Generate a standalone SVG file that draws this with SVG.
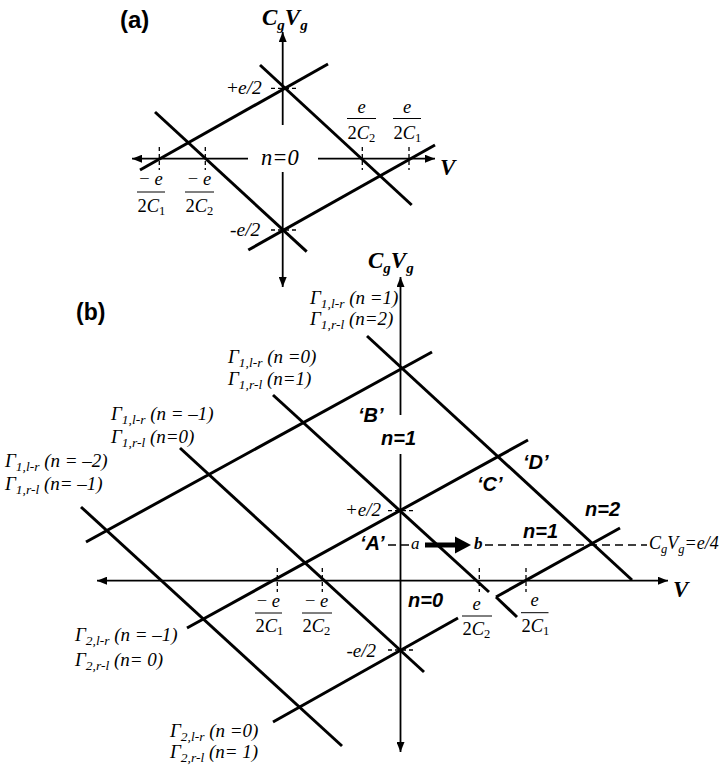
<svg xmlns="http://www.w3.org/2000/svg" width="727" height="765" viewBox="0 0 727 765">
<defs>
<style>
.ln{stroke:#000;stroke-width:3;fill:none}
.ax{stroke:#000;stroke-width:1.8;fill:none}
.tk{stroke:#000;stroke-width:1.3;stroke-dasharray:4 3;fill:none}
.dl{stroke:#000;stroke-width:1.5;stroke-dasharray:8 5;fill:none}
.tm{font-family:"Liberation Serif","Times New Roman",serif;font-style:italic;fill:#000}
.up{font-style:normal}
.tb{font-family:"Liberation Serif","Times New Roman",serif;font-style:italic;font-weight:bold;fill:#000}
.hb{font-family:"Liberation Sans",Arial,sans-serif;font-weight:bold;font-style:italic;font-size:20px;fill:#000}
.hd{font-family:"Liberation Sans",Arial,sans-serif;font-weight:bold;fill:#000}
.gl{font-family:"Liberation Serif","Times New Roman",serif;font-style:italic;font-size:19px;fill:#000}
.sb{font-size:13.5px}
.fr{font-family:"Liberation Serif","Times New Roman",serif;font-size:18.5px;fill:#000}
</style>
<marker id="ar" viewBox="0 0 10 8" refX="10" refY="4" markerWidth="10" markerHeight="8" markerUnits="userSpaceOnUse" orient="auto"><path d="M0,0 L10,4 L0,8 z" fill="#000"/></marker>
</defs>

<!-- ===== Panel (a) ===== -->
<g id="panel-a-axes">
<text class="hd" x="120" y="28" font-size="24">(a)</text>
<line class="ax" x1="282.7" y1="125" x2="282.7" y2="32" marker-end="url(#ar)"/>
<line class="ax" x1="282.7" y1="172" x2="282.7" y2="287" marker-end="url(#ar)"/>
<line class="ax" x1="248" y1="158.7" x2="132" y2="158.7" marker-end="url(#ar)"/>
<line class="ax" x1="318" y1="158.7" x2="435" y2="158.7" marker-end="url(#ar)"/>
<text class="tb" x="262" y="25" font-size="23">C<tspan font-size="15" dy="5">g</tspan><tspan dy="-5">V</tspan><tspan font-size="15" dy="5">g</tspan></text>
<text class="tb" x="440" y="175" font-size="23">V</text>
<text class="tm" x="261" y="164.5" font-size="22.5">n=0</text>
</g>
<g id="panel-a-lines">
<line class="ln" x1="140" y1="170" x2="328" y2="64"/>
<line class="ln" x1="260" y1="65" x2="411.7" y2="205"/>
<line class="ln" x1="155" y1="112" x2="306.7" y2="251.7"/>
<line class="ln" x1="248.3" y1="250" x2="435" y2="145"/>
</g>
<g id="panel-a-ticks">
<line class="tk" x1="271" y1="88.3" x2="296" y2="88.3"/>
<line class="tk" x1="271" y1="230" x2="296" y2="230"/>
<line class="tk" x1="159.3" y1="147" x2="159.3" y2="170"/>
<line class="tk" x1="205.3" y1="147" x2="205.3" y2="170"/>
<line class="tk" x1="362.3" y1="147" x2="362.3" y2="170"/>
<line class="tk" x1="409" y1="147" x2="409" y2="170"/>
<text class="tm" x="227" y="93.5" font-size="19.5"><tspan class="up">+</tspan>e/2</text>
<text class="tm" x="230" y="235.5" font-size="19.5">-e/2</text>
</g>
<g id="panel-a-fractions">
<text class="fr" x="361.5" y="113" text-anchor="middle"><tspan font-style="italic">e</tspan></text>
<line x1="347" y1="118.5" x2="376" y2="118.5" stroke="#000" stroke-width="1"/>
<text class="fr" x="347.5" y="139">2<tspan font-style="italic">C</tspan><tspan font-size="12.5" dy="3">2</tspan></text>
<text class="fr" x="407" y="113" text-anchor="middle"><tspan font-style="italic">e</tspan></text>
<line x1="393" y1="118.5" x2="421" y2="118.5" stroke="#000" stroke-width="1"/>
<text class="fr" x="393.5" y="139">2<tspan font-style="italic">C</tspan><tspan font-size="12.5" dy="3">1</tspan></text>
<text class="fr" x="151" y="185" text-anchor="middle">− <tspan font-style="italic">e</tspan></text>
<line x1="137" y1="192" x2="165" y2="192" stroke="#000" stroke-width="1"/>
<text class="fr" x="137.5" y="212">2<tspan font-style="italic">C</tspan><tspan font-size="12.5" dy="3">1</tspan></text>
<text class="fr" x="199.5" y="185" text-anchor="middle">− <tspan font-style="italic">e</tspan></text>
<line x1="185" y1="192" x2="214" y2="192" stroke="#000" stroke-width="1"/>
<text class="fr" x="185.5" y="212">2<tspan font-style="italic">C</tspan><tspan font-size="12.5" dy="3">2</tspan></text>
</g>

<!-- ===== Panel (b) ===== -->
<g id="panel-b-axes">
<text class="hd" x="76" y="320" font-size="23">(b)</text>
<line class="ax" x1="400.5" y1="415" x2="400.5" y2="277" marker-end="url(#ar)"/>
<line class="ax" x1="400.5" y1="454" x2="400.5" y2="752" marker-end="url(#ar)"/>
<line class="ax" x1="400.5" y1="580.7" x2="97" y2="580.7" marker-end="url(#ar)"/>
<line class="ax" x1="400.5" y1="580.7" x2="668" y2="580.7" marker-end="url(#ar)"/>
<text class="tb" x="368" y="268" font-size="23">C<tspan font-size="15" dy="5">g</tspan><tspan dy="-5">V</tspan><tspan font-size="15" dy="5">g</tspan></text>
<text class="tb" x="673" y="597" font-size="23">V</text>
</g>
<g id="panel-b-connectors">
<line class="ln" x1="367" y1="336" x2="632" y2="580"/>
<line class="ln" x1="273" y1="395" x2="489" y2="592"/>
<line class="ln" x1="496" y1="597" x2="517" y2="617"/>
<line class="ln" x1="180" y1="448" x2="424" y2="672"/>
<line class="ln" x1="81" y1="507" x2="342" y2="746"/>
<line class="ln" x1="86" y1="542" x2="432" y2="352"/>
<line class="ln" x1="187" y1="628" x2="528" y2="440"/>
<line class="ln" x1="273" y1="722" x2="458" y2="618"/>
<line class="ln" x1="496" y1="597" x2="620" y2="528"/>
<line class="dl" x1="388" y1="545" x2="412" y2="545"/>
<line class="dl" x1="485" y1="545" x2="647" y2="545"/>
<line x1="425" y1="545" x2="457" y2="545" stroke="#000" stroke-width="5"/>
<polygon points="455,536.5 471,545 455,553.5" fill="#000"/>
</g>
<g id="panel-b-ticks">
<line class="tk" x1="388" y1="510.7" x2="413" y2="510.7"/>
<line class="tk" x1="388" y1="650" x2="413" y2="650"/>
<line class="tk" x1="277.3" y1="568" x2="277.3" y2="592"/>
<line class="tk" x1="322.3" y1="568" x2="322.3" y2="592"/>
<line class="tk" x1="479.3" y1="568" x2="479.3" y2="592"/>
<line class="tk" x1="526" y1="568" x2="526" y2="592"/>
<text class="tm" x="345" y="515.5" font-size="19">+<tspan>e/2</tspan></text>
<text class="tm" x="346.5" y="657" font-size="19">-e/2</text>
</g>
<g id="panel-b-fractions">
<text class="fr" x="268.3" y="606.5" text-anchor="middle">− <tspan font-style="italic">e</tspan></text>
<line x1="255" y1="613" x2="282" y2="613" stroke="#000" stroke-width="1"/>
<text class="fr" x="255.5" y="632">2<tspan font-style="italic">C</tspan><tspan font-size="12.5" dy="3">1</tspan></text>
<text class="fr" x="316.7" y="606.5" text-anchor="middle">− <tspan font-style="italic">e</tspan></text>
<line x1="302" y1="613" x2="332" y2="613" stroke="#000" stroke-width="1"/>
<text class="fr" x="302.5" y="632">2<tspan font-style="italic">C</tspan><tspan font-size="12.5" dy="3">2</tspan></text>
<text class="fr" x="476.7" y="610" text-anchor="middle"><tspan font-style="italic">e</tspan></text>
<line x1="462" y1="616" x2="492" y2="616" stroke="#000" stroke-width="1"/>
<text class="fr" x="462.5" y="635">2<tspan font-style="italic">C</tspan><tspan font-size="12.5" dy="3">2</tspan></text>
<text class="fr" x="534.5" y="606" text-anchor="middle"><tspan font-style="italic">e</tspan></text>
<line x1="521" y1="612.7" x2="548.5" y2="612.7" stroke="#000" stroke-width="1"/>
<text class="fr" x="521.5" y="632">2<tspan font-style="italic">C</tspan><tspan font-size="12.5" dy="3">1</tspan></text>
</g>
<g id="region-labels">
<text class="hb" x="358" y="422">‘B’</text>
<text class="hb" x="381" y="445">n=1</text>
<text class="hb" x="523" y="469">‘D’</text>
<text class="hb" x="477" y="491">‘C’</text>
<text class="hb" x="360" y="550">‘A’</text>
<text class="hb" x="585" y="516">n=2</text>
<text class="hb" x="523" y="538">n=1</text>
<text class="hb" x="408" y="606.7">n=0</text>
<text class="tm" x="411" y="549" font-size="17">a</text>
<text class="tb" x="474" y="549" font-size="17">b</text>
<text class="tm" x="649" y="549" font-size="18" fill="#222">C<tspan font-size="12.5" dy="4">g</tspan><tspan dy="-4">V</tspan><tspan font-size="12.5" dy="4">g</tspan><tspan dy="-4">=e/4</tspan></text>
</g>
<g id="gamma-labels">
<text class="gl" x="310" y="304">Γ<tspan class="sb" dy="4">1,l-r</tspan><tspan dy="-4"> (n =1)</tspan></text>
<text class="gl" x="310" y="325">Γ<tspan class="sb" dy="4">1,r-l</tspan><tspan dy="-4"> (n=2)</tspan></text>
<text class="gl" x="228" y="363">Γ<tspan class="sb" dy="4">1,l-r</tspan><tspan dy="-4"> (n =0)</tspan></text>
<text class="gl" x="228" y="385">Γ<tspan class="sb" dy="4">1,r-l</tspan><tspan dy="-4"> (n=1)</tspan></text>
<text class="gl" x="111" y="420">Γ<tspan class="sb" dy="4">1,l-r</tspan><tspan dy="-4"> (n = –1)</tspan></text>
<text class="gl" x="111" y="443">Γ<tspan class="sb" dy="4">1,r-l</tspan><tspan dy="-4"> (n=0)</tspan></text>
<text class="gl" x="5" y="467">Γ<tspan class="sb" dy="4">1,l-r</tspan><tspan dy="-4"> (n = –2)</tspan></text>
<text class="gl" x="5" y="490">Γ<tspan class="sb" dy="4">1,r-l</tspan><tspan dy="-4"> (n= –1)</tspan></text>
<text class="gl" x="75" y="641">Γ<tspan class="sb" dy="4">2,l-r</tspan><tspan dy="-4"> (n = –1)</tspan></text>
<text class="gl" x="75" y="666">Γ<tspan class="sb" dy="4">2,r-l</tspan><tspan dy="-4"> (n= 0)</tspan></text>
<text class="gl" x="170" y="737">Γ<tspan class="sb" dy="4">2,l-r</tspan><tspan dy="-4"> (n =0)</tspan></text>
<text class="gl" x="170" y="758">Γ<tspan class="sb" dy="4">2,r-l</tspan><tspan dy="-4"> (n= 1)</tspan></text>
</g>
</svg>
